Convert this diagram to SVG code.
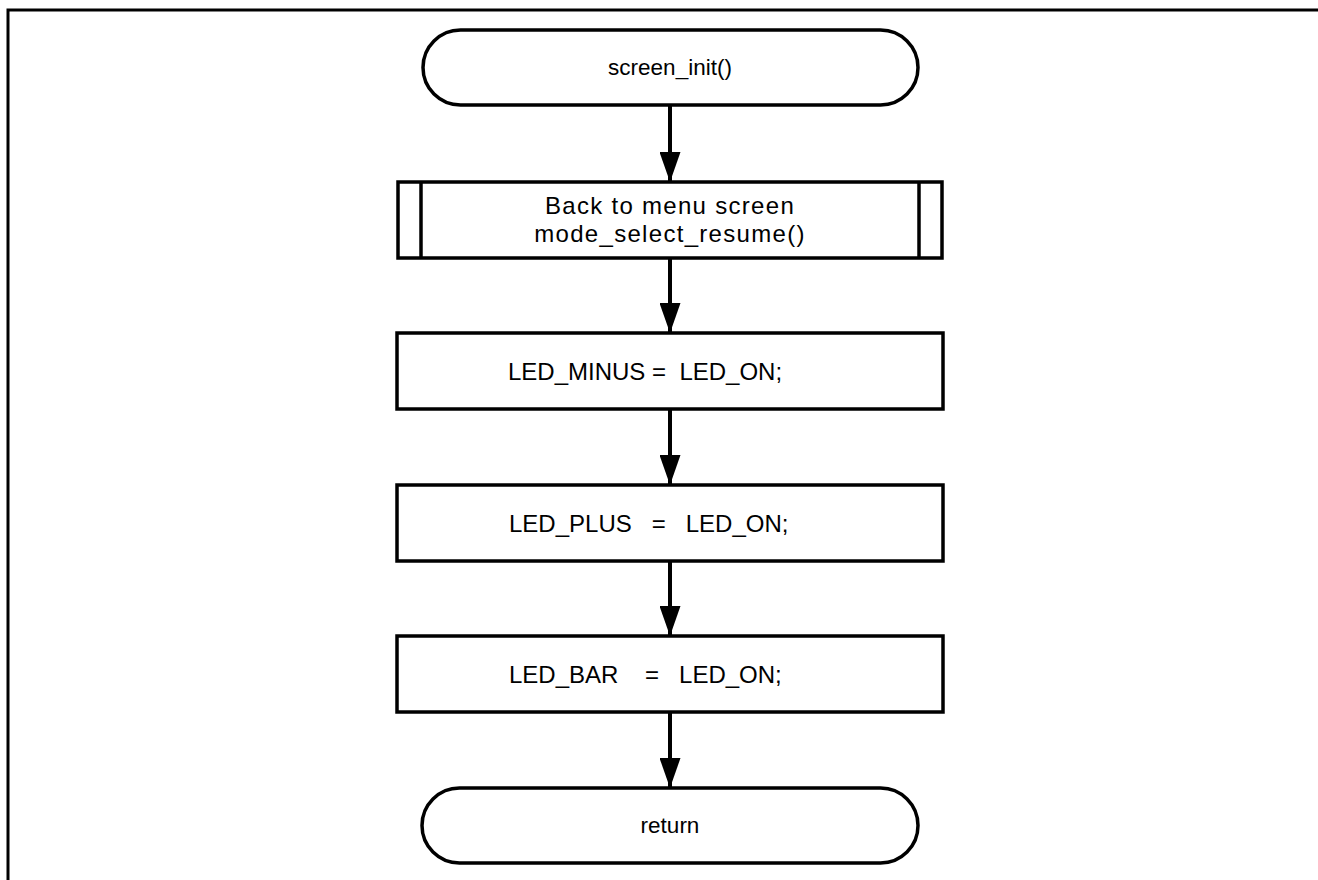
<svg xmlns="http://www.w3.org/2000/svg" width="1318" height="880" viewBox="0 0 1318 880">
<defs>
<marker id="ah" viewBox="0 0 30 21" refX="30" refY="10.5" markerWidth="30" markerHeight="21" markerUnits="userSpaceOnUse" orient="auto">
<path d="M0,0 L30,10.5 L0,21 Z" fill="#000"/>
</marker>
</defs>
<style>
.s{fill:#fff;stroke:#000;stroke-width:3.5}
.t{font-family:"Liberation Sans",Arial,sans-serif;font-size:22.5px;fill:#000;text-anchor:middle}
.b{font-family:"Liberation Sans",Arial,sans-serif;font-size:24px;fill:#000;text-anchor:middle}
.l{font-family:"Liberation Sans",Arial,sans-serif;font-size:24px;fill:#000;text-anchor:start}
.sp{letter-spacing:1.3px}
.c{stroke:#000;stroke-width:4;fill:none}
.f{stroke:#000;stroke-width:3;fill:none}
</style>
<rect width="1318" height="880" fill="#fff"/>
<path class="f" d="M8,880 V10 H1318"/>
<g id="start">
<rect class="s" x="423" y="30" width="495" height="75" rx="37.5" ry="37.5"/>
<text class="t" x="670" y="75">screen_init()</text>
</g>
<g id="sub">
<rect class="s" x="398" y="182" width="544" height="76"/>
<line class="s" x1="421" y1="182" x2="421" y2="258"/>
<line class="s" x1="919" y1="182" x2="919" y2="258"/>
<text class="b sp" x="670" y="214">Back to menu screen</text>
<text class="b sp" x="670" y="242">mode_select_resume()</text>
</g>
<g id="minus">
<rect class="s" x="397" y="333" width="546" height="76"/>
<text class="l" x="508" y="380" xml:space="preserve">LED_MINUS =  LED_ON;</text>
</g>
<g id="plus">
<rect class="s" x="397" y="485" width="546" height="76"/>
<text class="l" x="509" y="532" xml:space="preserve">LED_PLUS   =   LED_ON;</text>
</g>
<g id="bar">
<rect class="s" x="397" y="636" width="546" height="76"/>
<text class="l" x="509" y="683" xml:space="preserve">LED_BAR    =   LED_ON;</text>
</g>
<g id="end">
<rect class="s" x="422" y="788" width="496" height="75" rx="37.5" ry="37.5"/>
<text class="t" x="670" y="833">return</text>
</g>
<g id="connectors">
<line class="c" x1="670" y1="105" x2="670" y2="182" marker-end="url(#ah)"/>
<line class="c" x1="670" y1="258" x2="670" y2="333" marker-end="url(#ah)"/>
<line class="c" x1="670" y1="409" x2="670" y2="485" marker-end="url(#ah)"/>
<line class="c" x1="670" y1="561" x2="670" y2="636" marker-end="url(#ah)"/>
<line class="c" x1="670" y1="712" x2="670" y2="788" marker-end="url(#ah)"/>
</g>
</svg>
